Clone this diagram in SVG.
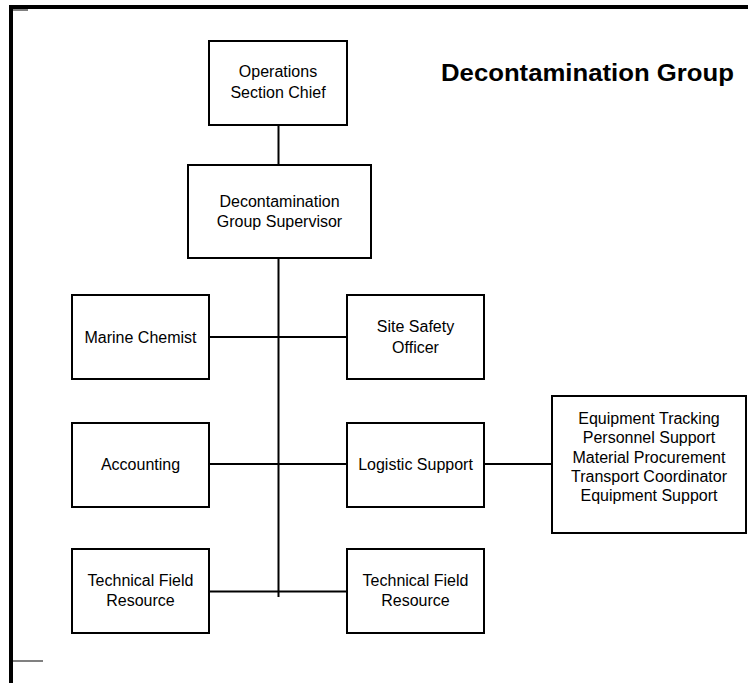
<svg xmlns="http://www.w3.org/2000/svg" width="748" height="683" viewBox="0 0 748 683">
  <style>
    .box { fill: #ffffff; stroke: #000000; stroke-width: 2; }
    .lbl { font-family: "Liberation Sans", Arial, sans-serif; font-size: 16px; fill: #000000; text-anchor: middle; }
    .title { font-family: "Liberation Sans", Arial, sans-serif; font-size: 23px; font-weight: bold; fill: #000000; }
    .wire { stroke: #000000; stroke-width: 2; fill: none; }
    .tick { stroke: #808080; stroke-width: 2; }
  </style>
  <rect width="748" height="683" fill="#ffffff"/>

  <!-- page frame -->
  <g id="frame">
    <rect x="9" y="5" width="739" height="4" fill="#000000"/>
    <rect x="9" y="5" width="4" height="678" fill="#000000"/>
    <line class="tick" x1="13" y1="10" x2="28" y2="10"/>
    <line class="tick" x1="13" y1="661" x2="43" y2="661"/>
  </g>

  <text class="title" x="441" y="81" textLength="293" lengthAdjust="spacingAndGlyphs">Decontamination Group</text>

  <!-- connectors -->
  <g id="connectors">
    <line class="wire" x1="278.5" y1="125" x2="278.5" y2="165"/>
    <line class="wire" x1="278.5" y1="258" x2="278.5" y2="597"/>
    <line class="wire" x1="209" y1="337" x2="347" y2="337"/>
    <line class="wire" x1="209" y1="464" x2="347" y2="464"/>
    <line class="wire" x1="484" y1="464" x2="552" y2="464"/>
    <line class="wire" x1="209" y1="591.5" x2="347" y2="591.5"/>
  </g>

  <g id="ops-chief">
    <rect class="box" x="209" y="41" width="138" height="84"/>
    <text class="lbl" x="278" y="77">Operations</text>
    <text class="lbl" x="278" y="98">Section Chief</text>
  </g>

  <g id="decon-supervisor">
    <rect class="box" x="188" y="165" width="183" height="93"/>
    <text class="lbl" x="279.5" y="207">Decontamination</text>
    <text class="lbl" x="279.5" y="227">Group Supervisor</text>
  </g>

  <g id="marine-chemist">
    <rect class="box" x="72" y="295" width="137" height="84"/>
    <text class="lbl" x="140.5" y="343">Marine Chemist</text>
  </g>

  <g id="site-safety">
    <rect class="box" x="347" y="295" width="137" height="84"/>
    <text class="lbl" x="415.5" y="332">Site Safety</text>
    <text class="lbl" x="415.5" y="353">Officer</text>
  </g>

  <g id="accounting">
    <rect class="box" x="72" y="423" width="137" height="84"/>
    <text class="lbl" x="140.5" y="470">Accounting</text>
  </g>

  <g id="logistic-support">
    <rect class="box" x="347" y="423" width="137" height="84"/>
    <text class="lbl" x="415.5" y="470">Logistic Support</text>
  </g>

  <g id="logistic-units">
    <rect class="box" x="552" y="396" width="194" height="137"/>
    <text class="lbl" x="649" y="424">Equipment Tracking</text>
    <text class="lbl" x="649" y="443">Personnel Support</text>
    <text class="lbl" x="649" y="463">Material Procurement</text>
    <text class="lbl" x="649" y="482">Transport Coordinator</text>
    <text class="lbl" x="649" y="501">Equipment Support</text>
  </g>

  <g id="tech-field-left">
    <rect class="box" x="72" y="549" width="137" height="84"/>
    <text class="lbl" x="140.5" y="586">Technical Field</text>
    <text class="lbl" x="140.5" y="606">Resource</text>
  </g>

  <g id="tech-field-right">
    <rect class="box" x="347" y="549" width="137" height="84"/>
    <text class="lbl" x="415.5" y="586">Technical Field</text>
    <text class="lbl" x="415.5" y="606">Resource</text>
  </g>
</svg>
